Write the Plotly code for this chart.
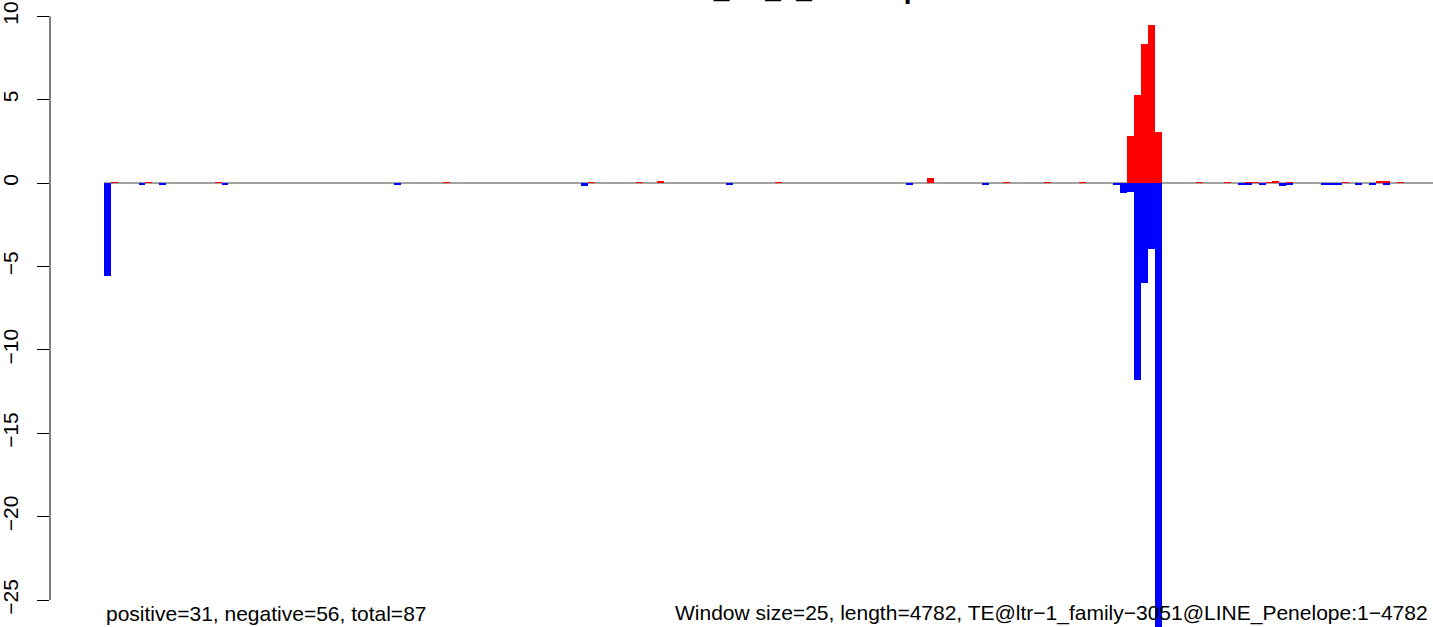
import plotly.graph_objects as go

# ---- data (window index, value); window size 25 over length 4782 ----
window_size = 25
seq_length = 4782

pos_windows = [1, 6, 16, 49, 70, 77, 80, 97, 119, 130, 136, 141,
               148, 149, 150, 151, 152, 158, 162, 165, 166, 168, 169,
               171, 179, 184, 185, 187]
pos_values = [0.05, 0.05, 0.05, 0.05, 0.05, 0.05, 0.08, 0.05, 0.32, 0.05, 0.05, 0.05,
              2.84, 5.30, 8.31, 9.49, 3.08, 0.05, 0.05, 0.05, 0.05, 0.05, 0.10,
              0.05, 0.05, 0.15, 0.11, 0.05]

neg_windows = [0, 5, 8, 17, 42, 69, 90, 116, 127, 146, 147, 148,
               149, 150, 151, 152, 164, 165, 167, 170, 171, 176, 177,
               178, 181, 183, 185]
neg_values = [-5.6, -0.08, -0.08, -0.08, -0.08, -0.16, -0.08, -0.08, -0.08, -0.14, -0.62, -0.56,
              -11.8, -6.0, -3.96, -27.0, -0.08, -0.08, -0.08, -0.16, -0.08, -0.08, -0.08,
              -0.08, -0.08, -0.08, -0.08]

y_ticks = [10, 5, 0, -5, -10, -15, -20, -25]
y_tick_labels = ["10", "5", "0", "\u22125", "\u221210", "\u221215", "\u221220", "\u221225"]

title_text = "LINE_TE_1_Penelope"
left_note = "positive=31, negative=56, total=87"
right_note = "Window size=25, length=4782, TE@ltr\u22121_family\u22123051@LINE_Penelope:1\u22124782"

# ---- figure ----
W, H = 1433, 627
ML = 50
FONT = "Liberation Sans, Arial, Helvetica, sans-serif"

pos_x = [w * window_size + window_size / 2 for w in pos_windows]
neg_x = [w * window_size + window_size / 2 for w in neg_windows]

fig = go.Figure()
fig.add_trace(go.Bar(x=pos_x, y=pos_values, width=window_size,
                     marker=dict(color="#FF0000", line=dict(width=0)),
                     showlegend=False, hoverinfo="x+y"))
fig.add_trace(go.Bar(x=neg_x, y=neg_values, width=window_size,
                     marker=dict(color="#0000FF", line=dict(width=0)),
                     showlegend=False, hoverinfo="x+y"))

px_per_unit = 6.914 / window_size
x_left_px = 104
xmin = -(x_left_px - ML) / px_per_unit
xmax = xmin + (W - ML) / px_per_unit

y_px_per_unit = 16.68
y_zero_px = 183
ymax = y_zero_px / y_px_per_unit
ymin = -(H - y_zero_px) / y_px_per_unit

fig.update_layout(
    width=W, height=H,
    margin=dict(l=ML, r=0, t=0, b=0),
    paper_bgcolor="white", plot_bgcolor="white",
    barmode="overlay", bargap=0,
    font=dict(family=FONT, size=21, color="black"),
    xaxis=dict(range=[xmin, xmax], visible=False, showgrid=False, zeroline=False),
    yaxis=dict(range=[ymin, ymax], showgrid=False, zeroline=False, showline=False,
               tickmode="array", tickvals=y_ticks, ticktext=y_tick_labels,
               ticks="outside", ticklen=12, tickwidth=1, tickcolor="black",
               tickangle=-90, tickfont=dict(family=FONT, size=21, color="black"),
               ticklabelstandoff=11, automargin=False),
    shapes=[
        dict(type="line", xref="x", yref="y", x0=0, x1=xmax, y0=0, y1=0,
             line=dict(color="#444444", width=1), layer="below"),
        dict(type="line", xref="paper", yref="y", x0=0, x1=0, y0=-25, y1=10,
             line=dict(color="black", width=1)),
    ],
    annotations=[
        dict(text=left_note, xref="x", yref="paper", x=0, y=1 - 613 / H,
             xanchor="left", yanchor="middle", showarrow=False,
             font=dict(family=FONT, size=21, color="black")),
        dict(text=right_note, xref="paper", yref="paper", x=(1430 - ML) / (W - ML), y=1 - 613 / H,
             xanchor="right", yanchor="middle", showarrow=False,
             font=dict(family=FONT, size=21, color="black")),
        dict(text="<b>" + title_text + "</b>", xref="paper", yref="paper",
             x=(938 - ML) / (W - ML), y=1, xanchor="right", yanchor="bottom", yshift=-6,
             showarrow=False, font=dict(family=FONT, size=28, color="black")),
    ],
)

fig.write_html("out.html",
               config={"displayModeBar": False},
               post_script="document.body.style.margin='0';document.body.style.padding='0';"
                           "document.body.style.overflow='hidden';")
